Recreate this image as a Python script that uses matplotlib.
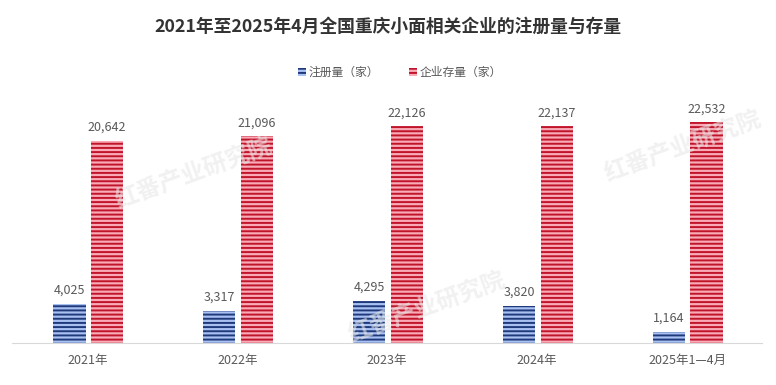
import matplotlib.pyplot as plt
import numpy as np

plt.rcParams['font.family'] = ['Noto Sans CJK SC', 'DejaVu Sans']
plt.rcParams['hatch.linewidth'] = 1.4

categories = ['2021年', '2022年', '2023年', '2024年', '2025年1—4月']
registered = [4025, 3317, 4295, 3820, 1164]
stock = [20642, 21096, 22126, 22137, 22532]
series_names = ['注册量（家）', '企业存量（家）']

fig = plt.figure(figsize=(7.76, 3.85), dpi=100)
ax = fig.add_axes([0.016, 0.109, 0.966, 0.636])

x = np.arange(len(categories))
w = 0.215
b1 = ax.bar(x - 0.12, registered, w, color='#a9c1f2', edgecolor='#1f3a7a',
            hatch='----', linewidth=0, label=series_names[0])
b2 = ax.bar(x + 0.13, stock, w, color='#f9aab6', edgecolor='#c0142a',
            hatch='----', linewidth=0, label=series_names[1])

for rect, v in zip(b1, registered):
    ax.text(rect.get_x() + rect.get_width() / 2, v + 700, f'{v:,}',
            ha='center', va='bottom', fontsize=9, color='#595959')
for rect, v in zip(b2, stock):
    ax.text(rect.get_x() + rect.get_width() / 2, v + 700, f'{v:,}',
            ha='center', va='bottom', fontsize=9, color='#595959')

ax.set_xlim(-0.5, 4.5)
ax.set_ylim(0, 25000)
ax.set_yticks([])
ax.set_xticks(x)
ax.set_xticklabels(categories, fontsize=9, color='#595959')
ax.tick_params(axis='x', length=0, pad=8)
for s in ['top', 'right', 'left']:
    ax.spines[s].set_visible(False)
ax.spines['bottom'].set_color('#d9d9d9')

# watermark
for wx, wy in [(0.25, 0.55), (0.55, 0.2), (0.88, 0.62)]:
    fig.text(wx, wy, '红番产业研究院', fontsize=17, color='#e8e8e8', alpha=0.6,
             rotation=20, ha='center', va='center', fontweight='bold', zorder=5)

fig.suptitle('2021年至2025年4月全国重庆小面相关企业的注册量与存量', y=0.955,
             fontsize=12.8, fontweight='bold', color='#333333')
fig.legend(loc='center', bbox_to_anchor=(0.515, 0.812), ncol=2, frameon=False,
           fontsize=8.5, handlelength=0.7, handleheight=0.7, columnspacing=2.5,
           handletextpad=0.2, labelcolor='#595959')

fig.savefig('out.png', dpi=100)
